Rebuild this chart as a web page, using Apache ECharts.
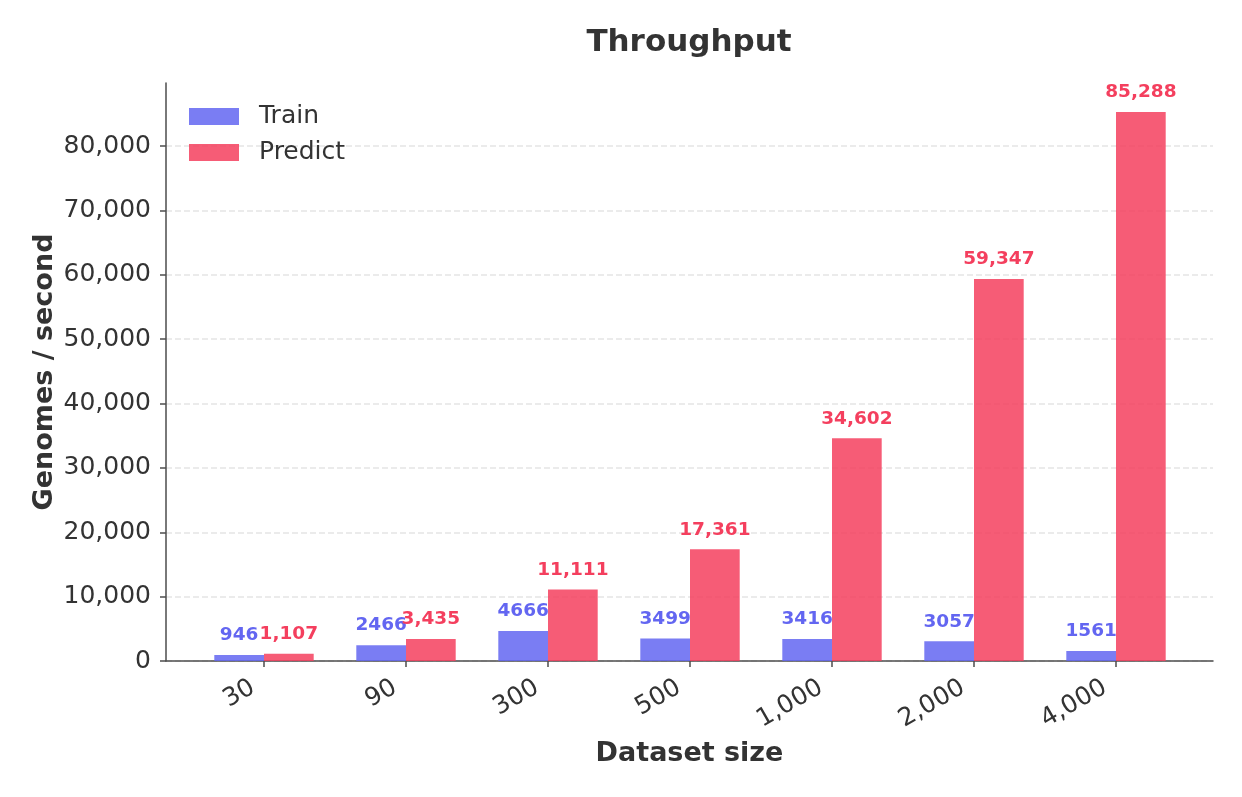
<!DOCTYPE html>
<html>
<head>
<meta charset="utf-8">
<script src="https://cdn.jsdelivr.net/npm/echarts@6/dist/echarts.min.js"></script>
<style>
    html, body { margin: 0; padding: 0; background: #fff; }
    #chart { width: 1242px; height: 797px; }
</style>
</head>
<body>
<div id="chart"></div>
<script>
// 数据
const sizes = ['30', '90', '300', '500', '1,000', '2,000', '4,000']
const trainValues = [946, 2466, 4666, 3499, 3416, 3057, 1561]
const predictValues = [1107, 3435, 11111, 17361, 34602, 59347, 85288]
const yTicks = [0, 10000, 20000, 30000, 40000, 50000, 60000, 70000, 80000]
const yMax = 89800

const textColor = '#333333'
const axisColor = '#4d4d4d'
const font = 'DejaVu Sans'

let chart = echarts.init(document.getElementById('chart'))

let option = {
    backgroundColor: '#fff',
    textStyle: { fontFamily: font },
    title: {
        text: 'Throughput',
        left: 684,
        textAlign: 'center',
        top: 22,
        textStyle: { fontFamily: font, fontSize: 31, fontWeight: 'bold', color: textColor }
    },
    legend: {
        orient: 'vertical',
        left: 189,
        top: 104,
        padding: 0,
        itemWidth: 50,
        itemHeight: 17,
        itemGap: 11,
        icon: 'rect',
        textStyle: { fontFamily: font, fontSize: 25, color: textColor, padding: [0, 0, 0, 15] },
        data: ['Train', 'Predict']
    },
    grid: [
        // 外框 + y轴
        { left: 166, right: 29, top: 83, bottom: 136 },
        // 柱子所在区域
        { left: 193, right: 55, top: 83, bottom: 136 }
    ],
    xAxis: [{
        gridIndex: 0,
        type: 'value',
        min: 0,
        max: 1,
        axisLine: { show: true, lineStyle: { color: axisColor, width: 1.5 } },
        axisTick: { show: false },
        axisLabel: { show: false },
        splitLine: { show: false },
        name: 'Dataset size',
        nameLocation: 'middle',
        nameGap: 79,
        nameMoveOverlap: false,
        nameTextStyle: { fontFamily: font, fontSize: 27, fontWeight: 'bold', color: textColor }
    }, {
        gridIndex: 1,
        type: 'category',
        data: sizes,
        axisLine: { show: false },
        axisTick: { show: true, alignWithLabel: true, length: 6, lineStyle: { color: axisColor, width: 1.5 } },
        axisLabel: {
            rotate: 30, fontFamily: font, fontSize: 25, color: textColor, margin: 4,
            align: 'right', verticalAlign: 'top', padding: [0, 20, 0, 0]
        },
        splitLine: { show: false }
    }],
    yAxis: [{
        gridIndex: 0,
        type: 'value',
        min: 0,
        max: yMax,
        interval: 10000,
        axisLine: { show: true, lineStyle: { color: axisColor, width: 1.5 } },
        axisTick: { show: true, length: 6, customValues: yTicks, lineStyle: { color: axisColor, width: 1.5 } },
        axisLabel: {
            fontFamily: font, fontSize: 25, color: textColor, margin: 15,
            customValues: yTicks,
            formatter: v => v.toLocaleString('en-US')
        },
        splitLine: {
            show: true,
            lineStyle: { color: '#e5e5e5', type: [6, 3], width: 1.5 }
        },
        name: 'Genomes / second',
        nameLocation: 'middle',
        nameGap: 108,
        nameMoveOverlap: false,
        nameTextStyle: { fontFamily: font, fontSize: 27, fontWeight: 'bold', color: textColor }
    }, {
        gridIndex: 1,
        type: 'value',
        min: 0,
        max: yMax,
        show: false
    }],
    series: [{
        name: 'Train',
        type: 'bar',
        xAxisIndex: 1,
        yAxisIndex: 1,
        barWidth: 49.7,
        barGap: 0,
        data: trainValues,
        itemStyle: { color: 'rgba(99, 102, 241, 0.85)' },
        label: {
            show: true,
            position: 'top',
            distance: 10,
            fontFamily: font,
            fontSize: 18.5,
            fontWeight: 'bold',
            color: '#6366f1',
            formatter: p => String(p.value)
        }
    }, {
        name: 'Predict',
        type: 'bar',
        xAxisIndex: 1,
        yAxisIndex: 1,
        barWidth: 49.7,
        barGap: 0,
        data: predictValues,
        itemStyle: { color: 'rgba(244, 63, 94, 0.85)' },
        label: {
            show: true,
            position: 'top',
            distance: 10,
            fontFamily: font,
            fontSize: 18.5,
            fontWeight: 'bold',
            color: '#f43f5e',
            formatter: p => p.value.toLocaleString('en-US')
        }
    }]
}

chart.setOption(option)
</script>
</body>
</html>
